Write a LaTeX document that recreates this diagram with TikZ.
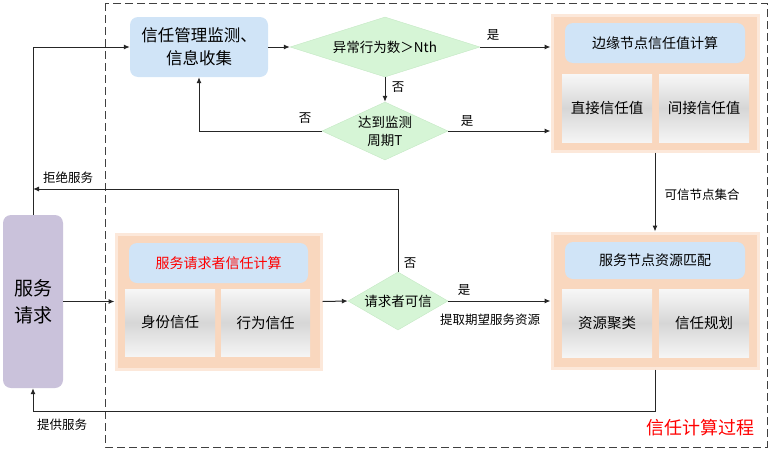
\documentclass[tikz,border=0pt]{standalone}
\usepackage{fontspec}
\setmainfont{Noto Sans CJK SC}
\usetikzlibrary{shapes.geometric,arrows.meta}

\definecolor{reqpurple}{RGB}{202,194,219}
\definecolor{boxblue}{RGB}{208,228,247}
\definecolor{dgreen}{RGB}{214,245,214}
\definecolor{dgreenedge}{RGB}{196,232,196}
\definecolor{peach}{RGB}{249,215,190}
\definecolor{peachedge}{RGB}{252,232,218}

\begin{document}
\begin{tikzpicture}[
    x=1pt, y=-1pt,
    >={Latex[length=6pt,width=5pt]},
    every node/.style={font=\fontsize{13}{16}\selectfont},
    line/.style={draw=black!85, line width=1pt},
    panel/.style={
        fill=peach,
        draw=peachedge,
        line width=3pt
    },
    title/.style={
        fill=boxblue,
        rounded corners=8pt,
        minimum width=180pt,
        minimum height=40pt,
        font=\fontsize{14}{17}\selectfont
    },
    cell/.style={
        top color=gray!6,
        bottom color=gray!8,
        middle color=gray!32,
        minimum width=90pt,
        minimum height=68pt,
        font=\fontsize{14.5}{17}\selectfont
    },
    decision/.style={
        diamond,
        fill=dgreen,
        draw=dgreenedge,
        inner sep=0pt,
        align=center,
        font=\fontsize{13.5}{18}\selectfont
    },
    label/.style={font=\fontsize{12.5}{15}\selectfont}
]

    \useasboundingbox (0,0) rectangle (770,450);

    % trust computation frame
    \draw[dash pattern=on 8pt off 4pt, line width=1pt, black!75]
        (105,3) rectangle (767,447);

    \node[text=red, font=\fontsize{18}{20}\selectfont] (frametitle) at (700,428)
        {信任计算过程};

    % service request
    \node[
        fill=reqpurple,
        rounded corners=8pt,
        minimum width=60pt,
        minimum height=173pt,
        align=center,
        font=\fontsize{19}{27}\selectfont
    ] (req) at (33,301.5) {服务\\请求};

    % monitoring box
    \node[
        fill=boxblue,
        rounded corners=8pt,
        minimum width=138pt,
        minimum height=60pt,
        align=center,
        font=\fontsize{16.5}{23}\selectfont
    ] (monitor) at (199,47) {信任管理监测、\\信息收集};

    % decisions
    \node[decision, aspect=3.17, minimum width=190pt, minimum height=60pt]
        (abnormal) at (385,47) {异常行为数＞Nth};
    \node[decision, aspect=2.17, minimum width=126pt, minimum height=58pt]
        (period) at (385,131) {达到监测\\周期T};
    \node[decision, aspect=1.72, minimum width=100pt, minimum height=58pt]
        (credible) at (398,301) {请求者可信};

    % edge node trust panel
    \node[panel, minimum width=206pt, minimum height=136pt] (edge) at (655,83) {};
    \node[title] (edgetitle) at (655,43) {边缘节点信任值计算};
    \node[cell] (direct) at (607,108) {直接信任值};
    \node[cell] (indirect) at (704,108) {间接信任值};

    % resource matching panel
    \node[panel, minimum width=206pt, minimum height=135pt] (match) at (655,300.5) {};
    \node[title, minimum height=37pt] (matchtitle) at (655,260.5) {服务节点资源匹配};
    \node[cell] (cluster) at (607,323) {资源聚类};
    \node[cell] (plan) at (704,323) {信任规划};

    % requester trust panel
    \node[panel, minimum width=205pt, minimum height=135pt] (reqtrust) at (218.5,301.5) {};
    \node[title, minimum width=179pt, text=red] (reqtitle) at (218.5,263) {服务请求者信任计算};
    \node[cell, minimum height=67pt] (identity) at (170,322.5) {身份信任};
    \node[cell, minimum width=89pt, minimum height=67pt] (behavior) at (265.5,322.5) {行为信任};

    % connectors
    \coordinate (reject) at (33,189);

    \draw[line, ->] (req.north) |- (monitor.west);
    \draw[line, ->] (monitor.east) -- (abnormal.west);
    \draw[line, ->] (abnormal.east) -- (abnormal.east -| edge.west);
    \draw[line, ->] (abnormal.south) -- (period.north);
    \draw[line, ->] (period.east) -- (period.east -| edge.west);
    \draw[line, ->] (period.west) -| (monitor.south);
    \draw[line, ->] (edge.south) -- (match.north);
    \draw[line, ->] (req.east) -- (reqtrust.west);
    \draw[line, ->] (reqtrust.east) -- (credible.west);
    \draw[line, ->] (credible.east) -- (credible.east -| match.west);
    \draw[line, ->] (credible.north) |- (reject);
    \draw[line, ->] (match.south) -- ++(0,42) -| (req.south);

    % connector labels
    \node[label] (yes1) at (493,35) {是};
    \node[label] (no1) at (398,87) {否};
    \node[label] (yes2) at (467,121) {是};
    \node[label] (no2) at (305,118) {否};
    \node[label] (yes3) at (464,290) {是};
    \node[label] (no3) at (410,263) {否};
    \node[label] (fetch) at (490,320) {提取期望服务资源};
    \node[label] (trusted) at (702,195) {可信节点集合};
    \node[label] (refuse) at (68,178) {拒绝服务};
    \node[label] (provide) at (62,425) {提供服务};

\end{tikzpicture}
\end{document}
